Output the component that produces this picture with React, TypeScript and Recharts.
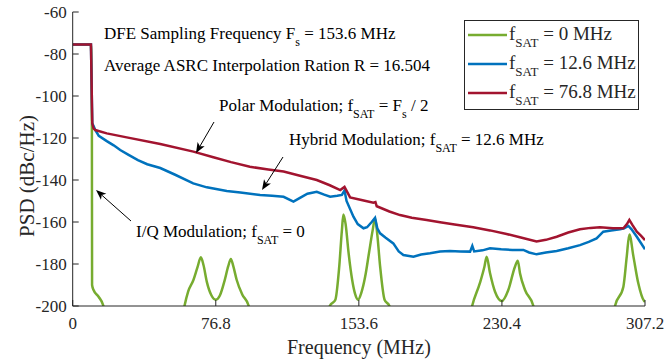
import React from "react";
import { Line, LineChart, XAxis, YAxis } from "recharts";

// frequency (MHz) / PSD (dBc/Hz)
const freqGreen = [0, 9.8, 10.3, 10.4, 11.2, 13.9, 16.5, 18, 58, 60, 62, 64.8, 67, 68.8, 70.2, 72, 74.5, 76.8, 79, 81.5, 83.5, 84.9, 86.2, 88, 91, 94.5, 96, 136, 138, 141, 143, 144.5, 145.3, 146.5, 148, 150, 151.5, 153.2, 155, 157, 159, 161, 162.3, 163.5, 165, 167.4, 170, 172, 212, 214.4, 218.6, 221, 222.2, 224, 226.7, 230.4, 233.8, 237.4, 238.9, 240.1, 242.8, 247.3, 249, 289, 291.1, 295.6, 297.4, 298.8, 301, 303.6, 306.7, 307.2];
const psdGreen = [-75.5, -75.5, -113, -190, -192.4, -195.6, -200, -210, -210, -200, -193, -187.6, -181.5, -176.8, -180.5, -188.5, -195, -197, -195, -188, -181, -177.6, -181, -187.5, -194.5, -200, -210, -210, -200, -197, -182, -164, -156.4, -161, -174, -187.5, -194, -197, -193.5, -186, -175, -164, -158.2, -166, -181, -197, -200, -210, -210, -200, -189, -181.3, -176.5, -184.3, -193.2, -197.6, -192.4, -181.3, -178.4, -184.4, -192.4, -200, -210, -210, -200, -190.8, -176.5, -165.9, -176.5, -189.2, -197.6, -198];

const freqBlue = [0, 9.8, 10.5, 11.2, 12, 14, 18.3, 22, 25.5, 30, 35, 40, 47, 55, 64.7, 72, 82.7, 90, 100.6, 107, 113.2, 118.5, 122, 126, 131, 135, 138.2, 142, 144.5, 145.9, 147, 150.7, 153, 156.1, 158, 160.5, 162.3, 163.5, 165, 168, 172.1, 175, 177.5, 182.9, 187, 191.8, 197.2, 202.5, 208, 213.3, 214.5, 215.5, 220, 224, 230, 236, 241.9, 245, 249, 254, 259.8, 266, 272.3, 277, 281.2, 284.8, 289, 293.8, 296, 298.3, 300, 302.8, 305, 307.2];
const psdBlue = [-75.5, -75.5, -113, -114.3, -116, -119, -121.5, -123.5, -125.7, -128, -130.5, -132.5, -134.3, -137.5, -141.6, -143.5, -145.2, -146, -147.1, -147.5, -148, -150.3, -148.5, -146.5, -145.6, -147, -148, -147.5, -147.1, -145, -150, -157.5, -161, -163, -162.5, -160, -158, -163, -165.4, -167.5, -170.2, -174, -175.7, -176.5, -175.5, -174.9, -174.1, -173.8, -174, -174.1, -171.4, -174, -173.5, -172.5, -173, -173.3, -173.3, -174.5, -175.4, -174.5, -173.8, -172.5, -171, -169.5, -167.8, -164.6, -164, -163.5, -163, -161.9, -163.5, -167, -170, -173];

const freqRed = [0, 9.8, 10.5, 11.2, 12.1, 18.3, 29, 47, 64.8, 75.5, 85, 95.1, 105, 113.2, 122, 131, 138, 143.6, 145.9, 148.9, 155, 161.4, 162.5, 163.2, 170, 175.7, 182, 190, 197.2, 205, 215, 224, 232.9, 240, 249, 254, 259.8, 266, 272.3, 278, 283, 290, 295.6, 297.5, 298.8, 300.5, 302.8, 305, 307.2];
const psdRed = [-75.5, -75.5, -113, -115.4, -116.2, -117.8, -119.7, -122.9, -126.5, -129.2, -131.5, -133.7, -135, -136, -138, -140, -142.5, -144.8, -143.3, -148.3, -149.5, -150.8, -150.5, -152.5, -155, -156.7, -158, -159, -160.1, -161.2, -162.5, -164, -165.7, -167.3, -169.3, -168.5, -167, -165, -163.5, -162.8, -162.5, -163, -163, -161, -159, -161.5, -164.6, -166.5, -168.6];

const xTicks = [0, 76.8, 153.6, 230.4, 307.2];
const xTickLabels = ["0", "76.8", "153.6", "230.4", "307.2"];
const yTicks = [-200, -180, -160, -140, -120, -100, -80, -60];
const yTickLabels = ["-200", "-180", "-160", "-140", "-120", "-100", "-80", "-60"];

const seriesNames = ["0 MHz", "12.6 MHz", "76.8 MHz"];

const GREEN = "#77AC30";
const BLUE = "#0072BD";
const RED = "#A2142F";
const INK = "#262626";
const txt = { fontFamily: "Liberation Serif" };

function toPoints(freq: number[], psd: number[]) {
    return freq.map((f, i) => ({ f, psd: psd[i] }));
}

const greenData = toPoints(freqGreen, psdGreen);
const blueData = toPoints(freqBlue, psdBlue);
const redData = toPoints(freqRed, psdRed);

const TICK = 6;

function BottomTick(props: any) {
    const { x, y, index } = props;
    return (
        <g>
            <line x1={x} x2={x} y1={y} y2={y - TICK} stroke={INK} />
            <text x={x} y={y + 23} textAnchor="middle" fontSize={17} style={txt} fill={INK}>
                {xTickLabels[index]}
            </text>
        </g>
    );
}

function LeftTick(props: any) {
    const { x, y, index } = props;
    return (
        <g>
            <line x1={x} x2={x + TICK} y1={y} y2={y} stroke={INK} />
            <text x={x - 6} y={y} dy="0.35em" textAnchor="end" fontSize={17} style={txt} fill={INK}>
                {yTickLabels[index]}
            </text>
        </g>
    );
}

function TopTick(props: any) {
    const { x, y } = props;
    return <line x1={x} x2={x} y1={y} y2={y + TICK} stroke={INK} />;
}

function RightTick(props: any) {
    const { x, y } = props;
    return <line x1={x} x2={x - TICK} y1={y} y2={y} stroke={INK} />;
}

function Arrow({ x1, y1, x2, y2 }: { x1: number; y1: number; x2: number; y2: number }) {
    const ang = Math.atan2(y2 - y1, x2 - x1);
    const len = 11;
    const half = 0.38;
    const p1 = [x2 - len * Math.cos(ang - half), y2 - len * Math.sin(ang - half)];
    const p2 = [x2 - len * Math.cos(ang + half), y2 - len * Math.sin(ang + half)];
    const back = [x2 - len * 0.7 * Math.cos(ang), y2 - len * 0.7 * Math.sin(ang)];
    return (
        <g>
            <line x1={x1} y1={y1} x2={back[0]} y2={back[1]} stroke="#000" strokeWidth={1} />
            <polygon points={`${x2},${y2} ${p1[0]},${p1[1]} ${back[0]},${back[1]} ${p2[0]},${p2[1]}`} fill="#000" />
        </g>
    );
}

function Sub({ children, size = 12, shift = 7 }: { children: React.ReactNode; size?: number; shift?: number }) {
    return (
        <tspan dy={shift} fontSize={size}>
            {children}
        </tspan>
    );
}

function Overlay() {
    const colors = [GREEN, BLUE, RED];
    return (
        <svg
            width={667}
            height={360}
            style={{ position: "absolute", left: 0, top: 0, pointerEvents: "none" }}
            fill="#000"
        >
            <text x={104} y={39} fontSize={17} style={txt}>
                DFE Sampling Frequency F<Sub>s</Sub>
                <tspan dy={-7}> = 153.6 MHz</tspan>
            </text>
            <text x={104} y={71} fontSize={17} style={txt}>
                Average ASRC Interpolation Ration R = 16.504
            </text>
            <text x={219} y={111} fontSize={17} style={txt}>
                Polar Modulation; f<Sub>SAT</Sub>
                <tspan dy={-7}> = F</tspan>
                <Sub>s</Sub>
                <tspan dy={-7}> / 2</tspan>
            </text>
            <text x={289} y={145} fontSize={17} style={txt}>
                Hybrid Modulation; f<Sub>SAT</Sub>
                <tspan dy={-7}> = 12.6 MHz</tspan>
            </text>
            <text x={136} y={237} fontSize={17} style={txt}>
                I/Q Modulation; f<Sub>SAT</Sub>
                <tspan dy={-7}> = 0</tspan>
            </text>

            <Arrow x1={214} y1={122} x2={196} y2={153} />
            <Arrow x1={283} y1={157} x2={262} y2={190} />
            <Arrow x1={131} y1={221} x2={96} y2={190} />

            {/* legend */}
            <rect x={464.5} y={20.5} width={174} height={89} fill="#fff" stroke={INK} strokeWidth={1} />
            {seriesNames.map((name, i) => (
                <g key={name}>
                    <line x1={468} x2={507} y1={35 + i * 29} y2={35 + i * 29} stroke={colors[i]} strokeWidth={2.5} />
                    <text x={509} y={40 + i * 29} fontSize={19} fill={INK} style={txt}>
                        f<Sub size={13} shift={7}>SAT</Sub>
                        <tspan dy={-7}> = {name}</tspan>
                    </text>
                </g>
            ))}

            {/* axis titles */}
            <text x={358.9} y={354} fontSize={20} textAnchor="middle" fill={INK} style={txt}>
                Frequency (MHz)
            </text>
            <text x={34} y={176} fontSize={21} textAnchor="middle" fill={INK} style={txt} transform="rotate(-90 34 176)">
                PSD (dBc/Hz)
            </text>
        </svg>
    );
}

export default function App() {
    return (
        <div style={{ position: "absolute", left: 0, top: 0, width: 667, height: 360, background: "#fff" }}>
            <LineChart
                width={667}
                height={360}
                margin={{ top: 12, right: 22, bottom: 0, left: 0 }}
            >
                <XAxis
                    dataKey="f"
                    type="number"
                    domain={[0, 307.2]}
                    ticks={xTicks}
                    interval={0}
                    height={54}
                    tickSize={0}
                    tickMargin={0}
                    tick={BottomTick}
                    axisLine={{ stroke: INK }}
                    allowDataOverflow
                />
                <XAxis
                    xAxisId="top"
                    orientation="top"
                    dataKey="f"
                    type="number"
                    domain={[0, 307.2]}
                    ticks={xTicks}
                    interval={0}
                    height={0}
                    tickSize={0}
                    tickMargin={0}
                    tick={TopTick}
                    axisLine={{ stroke: INK }}
                    allowDataOverflow
                />
                <YAxis
                    type="number"
                    domain={[-200, -60]}
                    ticks={yTicks}
                    interval={0}
                    width={72.7}
                    tickSize={0}
                    tickMargin={0}
                    tick={LeftTick}
                    axisLine={{ stroke: INK }}
                    allowDataOverflow
                />
                <YAxis
                    yAxisId="right"
                    orientation="right"
                    type="number"
                    domain={[-200, -60]}
                    ticks={yTicks}
                    interval={0}
                    width={0}
                    tickSize={0}
                    tickMargin={0}
                    tick={RightTick}
                    axisLine={{ stroke: INK }}
                    allowDataOverflow
                />
                <Line
                    data={greenData}
                    dataKey="psd"
                    name={seriesNames[0]}
                    stroke={GREEN}
                    strokeWidth={2.5}
                    dot={false}
                    type="monotone"
                    isAnimationActive={false}
                />
                <Line
                    data={blueData}
                    dataKey="psd"
                    name={seriesNames[1]}
                    stroke={BLUE}
                    strokeWidth={2.5}
                    dot={false}
                    type="linear"
                    isAnimationActive={false}
                />
                <Line
                    data={redData}
                    dataKey="psd"
                    name={seriesNames[2]}
                    stroke={RED}
                    strokeWidth={2.5}
                    dot={false}
                    type="linear"
                    isAnimationActive={false}
                />
            </LineChart>
            <Overlay />
        </div>
    );
}
